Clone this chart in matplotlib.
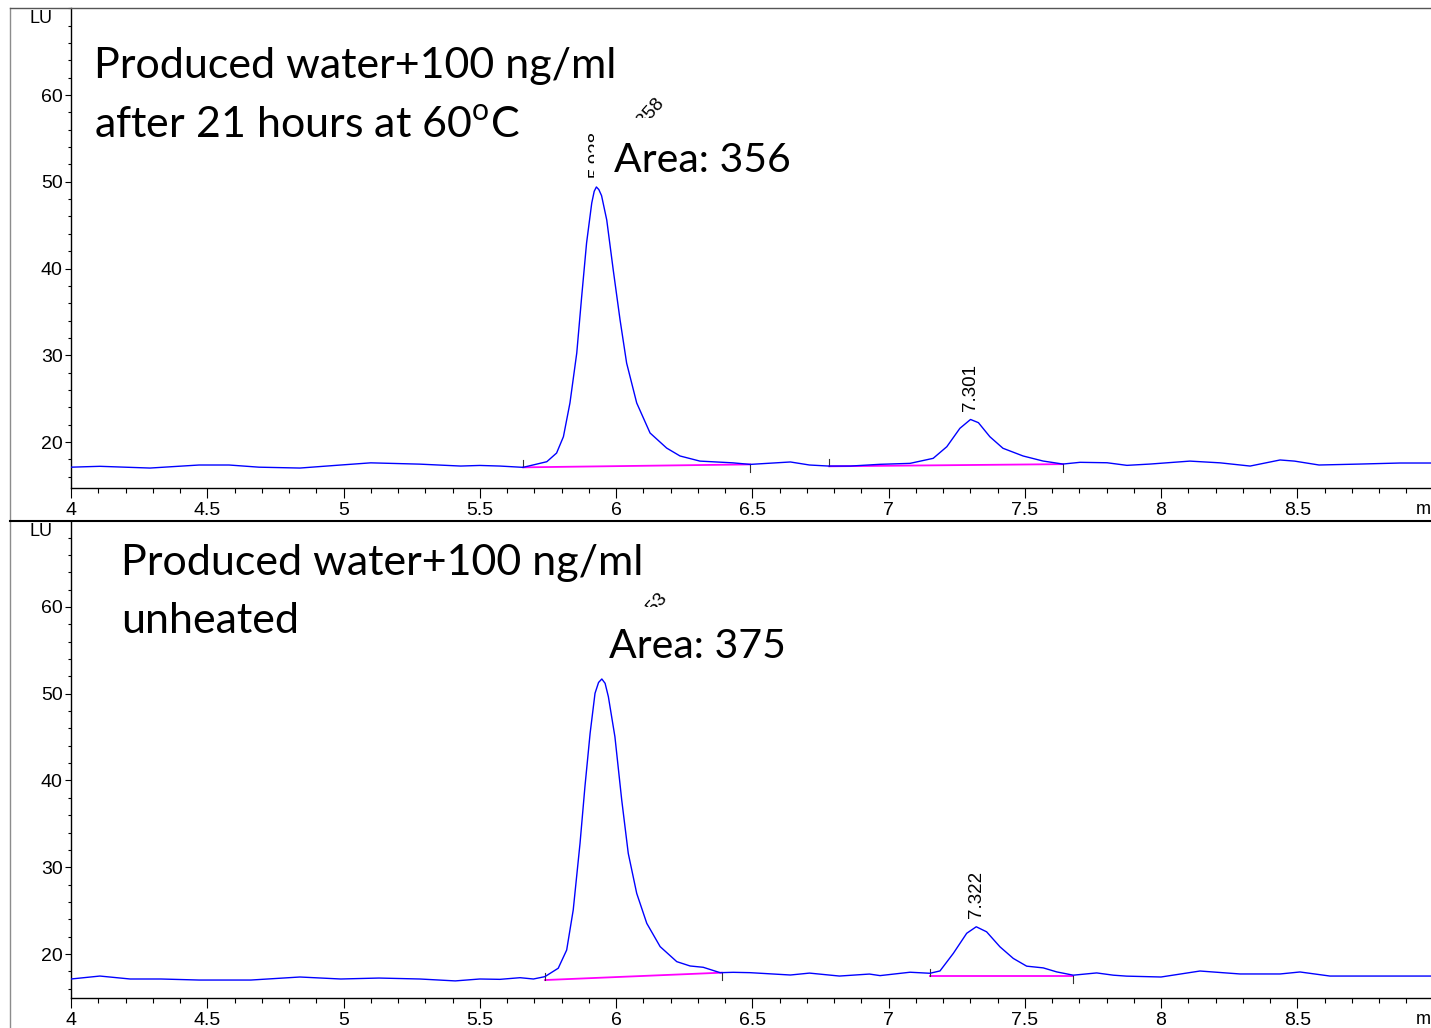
import matplotlib
matplotlib.use('Agg')
import matplotlib.pyplot as plt
from matplotlib.lines import Line2D
from matplotlib.patches import Rectangle
from matplotlib.ticker import MultipleLocator, FixedLocator, FuncFormatter

plt.rcParams['mathtext.fontset'] = 'custom'
plt.rcParams['mathtext.rm'] = 'Lato'

# ── data: heated sample (top) ────────────────────────────────────────────────
top_t = [4.00, 4.106, 4.29, 4.47, 4.58, 4.69, 4.84, 4.99, 5.10, 5.28, 5.43, 5.50,
         5.574, 5.659, 5.746, 5.782, 5.807, 5.831, 5.856, 5.874, 5.892, 5.911,
         5.920, 5.928, 5.937, 5.947, 5.966, 5.990, 6.015, 6.039, 6.076, 6.125,
         6.186, 6.235, 6.308, 6.429, 6.492, 6.64, 6.71, 6.78, 6.86, 6.969,
         7.079, 7.164, 7.214, 7.262, 7.301, 7.330, 7.372, 7.420, 7.494, 7.567,
         7.640, 7.703, 7.802, 7.875, 7.96, 8.106, 8.217, 8.327, 8.437, 8.49,
         8.58, 8.73, 8.877, 8.99]
top_lu = [17.10, 17.20, 17.00, 17.35, 17.35, 17.10, 17.00, 17.35, 17.60, 17.45, 17.23, 17.30,
          17.23, 17.08, 17.73, 18.73, 20.61, 24.50, 30.26, 36.75, 42.94, 47.55,
          48.90, 49.40, 49.10, 48.40, 45.60, 39.80, 34.06, 29.10, 24.50, 21.04,
          19.30, 18.39, 17.80, 17.60, 17.42, 17.70, 17.35, 17.23, 17.23, 17.43,
          17.54, 18.12, 19.46, 21.58, 22.60, 22.23, 20.61, 19.28, 18.39, 17.81,
          17.46, 17.66, 17.61, 17.31, 17.46, 17.80, 17.60, 17.23, 17.93, 17.80,
          17.35, 17.46, 17.58, 17.58]
top_base_t = [(5.659, 6.492), (6.782, 7.640)]
top_base_lu = [(17.08, 17.42), (17.20, 17.45)]
top_rt = [('5.928', 5.928, 49.4), ('7.301', 7.301, 22.6)]

# ── data: unheated sample (bottom) ───────────────────────────────────────────
bot_t = [4.00, 4.106, 4.217, 4.33, 4.47, 4.66, 4.84, 4.99, 5.13, 5.28, 5.41, 5.50,
         5.574, 5.648, 5.697, 5.739, 5.788, 5.819, 5.843, 5.868, 5.886, 5.905,
         5.923, 5.936, 5.948, 5.960, 5.972, 5.996, 6.021, 6.045, 6.076, 6.113,
         6.162, 6.223, 6.272, 6.320, 6.382, 6.430, 6.492, 6.64, 6.71, 6.82,
         6.93, 6.969, 7.079, 7.152, 7.189, 7.238, 7.287, 7.322, 7.360, 7.409,
         7.458, 7.507, 7.568, 7.617, 7.678, 7.764, 7.825, 7.874, 8.00, 8.143,
         8.29, 8.437, 8.51, 8.62, 8.80, 8.99]
bot_lu = [17.12, 17.46, 17.12, 17.12, 17.00, 17.00, 17.35, 17.12, 17.23, 17.12, 16.90, 17.12,
          17.08, 17.27, 17.12, 17.39, 18.36, 20.46, 25.07, 32.76, 39.29, 45.44,
          50.05, 51.30, 51.70, 51.20, 49.66, 45.05, 37.75, 31.60, 26.99, 23.53,
          20.85, 19.12, 18.62, 18.47, 17.85, 17.89, 17.85, 17.58, 17.80, 17.46,
          17.69, 17.51, 17.90, 17.78, 18.05, 20.08, 22.39, 23.14, 22.56, 20.83,
          19.49, 18.60, 18.40, 17.94, 17.56, 17.82, 17.56, 17.45, 17.35, 18.04,
          17.70, 17.70, 17.93, 17.46, 17.46, 17.46]
bot_base_t = [(5.739, 6.388), (7.152, 7.678)]
bot_base_lu = [(17.00, 17.85), (17.46, 17.46)]
bot_rt = [('5.950', 5.950, 51.7), ('7.322', 7.322, 23.14)]

W, H = 1431, 1028
fig = plt.figure(figsize=(W / 100, H / 100), dpi=100)


def fpos(x, y):
    return x / W, 1 - y / H


TICKFONT = ['Liberation Sans Narrow', 'Liberation Sans', 'DejaVu Sans']
BIGFONT = 'Lato'


def panel(top_px, bot_px, ylim, t, lu, base_t, base_lu, rt, area_rot):
    ax = fig.add_axes([71 / W, (H - bot_px) / H, 1360 / W, (bot_px - top_px) / H])
    ax.plot(t, lu, color='#0000ff', lw=1.0, zorder=3)
    for (x0, x1), (y0, y1) in zip(base_t, base_lu):
        ax.plot([x0, x1], [y0, y1], color='#ff00ff', lw=1.3, zorder=2.5)
        ax.plot([x0, x0], [y0, y0 + 0.8], color='#333333', lw=0.8, zorder=2.5)
        ax.plot([x1, x1], [y1, y1 - 0.85], color='#333333', lw=0.8, zorder=2.5)
    for lbl, x, y in rt:
        ax.text(x, y + 1.0, lbl, rotation=90, ha='center', va='bottom',
                fontsize=13.5, family=['Liberation Sans', 'DejaVu Sans'], zorder=1)
    # rotated area value, mostly hidden under the white box
    txt, ax_x, ax_y = area_rot
    ax.text(ax_x, ax_y, txt, rotation=48, rotation_mode='anchor', ha='right', va='top',
            fontsize=13.5, family=['Liberation Sans', 'DejaVu Sans'], zorder=1)

    ax.set_xlim(4, 4 + 1360 / 272.5)
    ax.set_ylim(*ylim)
    for s in ['top', 'right']:
        ax.spines[s].set_visible(False)
    ax.spines['left'].set_linewidth(1.0)
    ax.spines['bottom'].set_linewidth(1.0)
    ax.xaxis.set_major_locator(MultipleLocator(0.5))
    ax.xaxis.set_minor_locator(MultipleLocator(0.1))
    ax.xaxis.set_major_formatter(FuncFormatter(lambda v, p: f'{v:g}'))
    ax.yaxis.set_major_locator(FixedLocator([20, 30, 40, 50, 60]))
    ax.yaxis.set_minor_locator(MultipleLocator(2))
    ax.tick_params(axis='x', which='major', length=7.5, width=0.8, pad=2.5, labelsize=14)
    ax.tick_params(axis='x', which='minor', length=3.8, width=0.8)
    ax.tick_params(axis='y', which='major', length=4.5, width=0.8, pad=1.5, labelsize=14)
    ax.tick_params(axis='y', which='minor', length=2.2, width=0.8)
    for lab in ax.get_xticklabels() + ax.get_yticklabels():
        lab.set_family(TICKFONT)
    return ax


ax1 = panel(8, 488, (14.70, 70.03), top_t, top_lu, top_base_t, top_base_lu, top_rt,
            ('356.358', 6.142, 60.0))
ax2 = panel(521, 998, (14.93, 69.91), bot_t, bot_lu, bot_base_t, bot_base_lu, bot_rt,
            ('375.253', 6.155, 62.0))

# white boxes behind the area texts (they hide part of the peak labels)
for ax, (x0, y0, x1, y1) in [(ax1, (594, 118, 800, 190)), (ax2, (590, 607, 800, 677))]:
    ax.add_patch(Rectangle(fpos(x0, y1), (x1 - x0) / W, (y1 - y0) / H,
                           transform=fig.transFigure, facecolor='white',
                           edgecolor='none', zorder=2, clip_on=False))

# big annotation texts
big = dict(fontsize=31, family=BIGFONT, va='baseline', ha='left', zorder=5)
fig.text(*fpos(94, 78), 'Produced water+100 ng/ml', **big)
fig.text(*fpos(94, 137), r'after 21 hours at 60$^{\mathrm{o}}$C', **big)
fig.text(*fpos(614, 172), 'Area: 356', fontsize=29.5, family=BIGFONT, va='baseline', ha='left', zorder=5)
fig.text(*fpos(121, 575), 'Produced water+100 ng/ml', **big)
fig.text(*fpos(121, 633), 'unheated', **big)
fig.text(*fpos(609, 658), 'Area: 375', fontsize=29.5, family=BIGFONT, va='baseline', ha='left', zorder=5)

# axis unit labels
for y in (10, 523):
    fig.text(*fpos(41, y), 'LU', ha='center', va='top', fontsize=13, family=TICKFONT)
for y in (509, 1020):
    fig.text(*fpos(1416, y), 'min', ha='left', va='center', fontsize=13, family=TICKFONT)

# panel frame lines
fig.add_artist(Line2D([10 / W, 10 / W], [1 - 8 / H, 0], color='#8c8c8c', lw=1.0))
fig.add_artist(Line2D([10 / W, 1], [1 - 8 / H, 1 - 8 / H], color='#555555', lw=1.0))
fig.add_artist(Line2D([10 / W, 1], [1 - 521 / H, 1 - 521 / H], color='black', lw=1.5))

fig.savefig('out.png', dpi=100)
